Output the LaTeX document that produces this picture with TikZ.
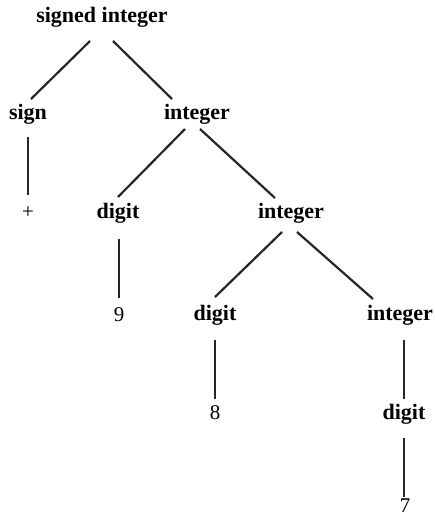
\documentclass[tikz,border=0pt]{standalone}
\usepackage{fontspec}
\setmainfont{Liberation Serif}
\begin{document}
\begin{tikzpicture}[x=1pt,y=-1pt,
  lab/.style={font=\fontsize{22}{22}\selectfont\bfseries,anchor=base,inner sep=0pt},
  leaf/.style={font=\fontsize{21}{21}\selectfont,anchor=base,inner sep=0pt},
  edge/.style={line width=2.2pt,black!85}]
\useasboundingbox (0,0) rectangle (434,516);
% nodes
\node[lab] (si) at (102,23) {signed integer};
\node[lab] (sign) at (28,119) {sign};
\node[lab] (int1) at (197,119) {integer};
\node[leaf] (plus) at (28,218) {+};
\node[lab] (dig1) at (118,218) {digit};
\node[lab] (int2) at (291,218) {integer};
\node[leaf] (nine) at (119,321) {9};
\node[lab] (dig2) at (215,320) {digit};
\node[lab] (int3) at (400,320) {integer};
\node[leaf] (eight) at (215,419) {8};
\node[lab] (dig3) at (404,419) {digit};
\node[leaf] (seven) at (405,512) {7};
% edges
\draw[edge] ([shift={(-12,18)}]si.base) -- ([shift={(3,-20)}]sign.base);
\draw[edge] ([shift={(11,18)}]si.base) -- ([shift={(-25,-20)}]int1.base);
\draw[edge] ([shift={(0,18)}]sign.base) -- ([shift={(0,-23)}]plus.base);
\draw[edge] ([shift={(-12,10)}]int1.base) -- ([shift={(0,-21)}]dig1.base);
\draw[edge] ([shift={(3,10)}]int1.base) -- ([shift={(-16,-20)}]int2.base);
\draw[edge] ([shift={(1,21)}]dig1.base) -- ([shift={(0,-23)}]nine.base);
\draw[edge] ([shift={(-9,14)}]int2.base) -- ([shift={(0,-23)}]dig2.base);
\draw[edge] ([shift={(6,14)}]int2.base) -- ([shift={(-27,-21)}]int3.base);
\draw[edge] ([shift={(0,20)}]dig2.base) -- ([shift={(0,-20)}]eight.base);
\draw[edge] ([shift={(4,20)}]int3.base) -- ([shift={(0,-20)}]dig3.base);
\draw[edge] ([shift={(0,19)}]dig3.base) -- ([shift={(-1,-15)}]seven.base);
\end{tikzpicture}
\end{document}
